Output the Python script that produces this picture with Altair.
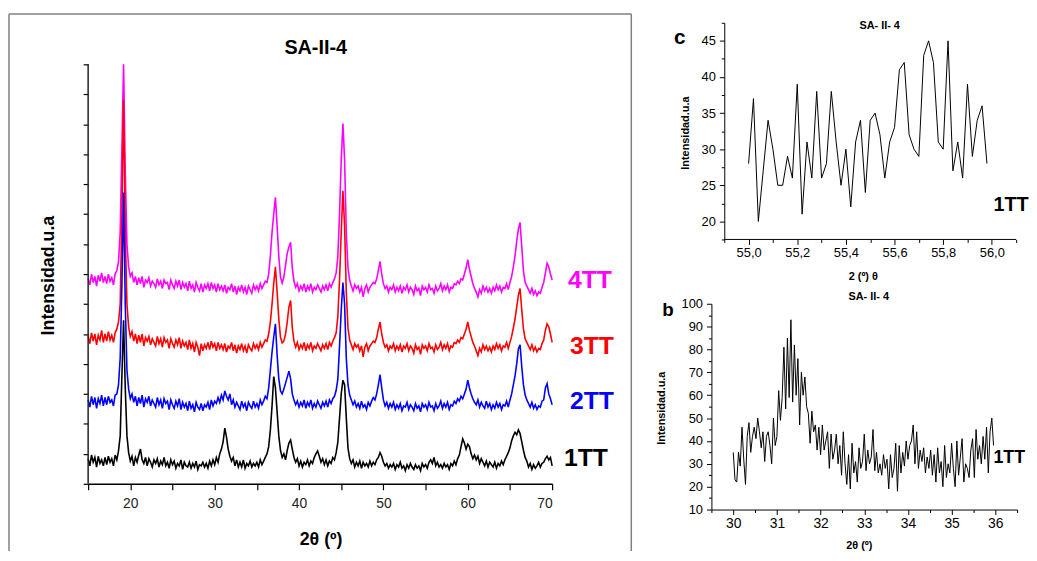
import altair as alt
import pandas as pd

# ---------------- main panel: XRD patterns, 2theta grid 15.0 .. 70.0 (step 0.2)
TWO_THETA = [round(15 + 0.2 * i, 1) for i in range(276)]

TT1 = [42, 30, 48, 36, 44, 28, 46, 34, 40, 30,
       44, 32, 46, 36, 42, 30, 48, 40, 55, 80,
       180, 273, 160, 80, 52, 38, 46, 30, 44, 36,
       48, 58, 40, 34, 44, 30, 42, 36, 28, 40,
       34, 42, 28, 38, 32, 44, 30, 36, 26, 40,
       32, 38, 26, 34, 30, 40, 24, 36, 30, 28,
       36, 26, 34, 28, 38, 24, 32, 30, 36, 28,
       34, 26, 38, 30, 40, 32, 44, 36, 50, 58,
       70, 93, 78, 58, 46, 38, 44, 30, 40, 28,
       36, 28, 40, 26, 34, 30, 38, 28, 34, 30,
       36, 28, 40, 32, 38, 44, 50, 62, 90, 130,
       179, 160, 120, 80, 56, 44, 50, 40, 56, 68,
       73, 58, 44, 36, 42, 30, 38, 28, 36, 32,
       40, 30, 38, 34, 44, 50, 55, 46, 36, 42,
       32, 40, 30, 38, 34, 44, 40, 52, 70, 110,
       150, 173, 165, 110, 60, 42, 34, 40, 28, 36,
       30, 38, 26, 36, 30, 34, 28, 38, 30, 36,
       32, 40, 44, 52, 46, 36, 30, 34, 26, 32,
       28, 34, 24, 32, 28, 36, 26, 30, 22, 32,
       26, 34, 28, 24, 32, 26, 30, 22, 34, 28,
       32, 26, 36, 40, 34, 44, 30, 36, 28, 32,
       26, 34, 28, 32, 24, 34, 30, 38, 32, 42,
       48, 62, 75, 68, 58, 66, 62, 50, 42, 48,
       40, 46, 34, 42, 36, 30, 38, 28, 36, 32,
       28, 36, 26, 34, 30, 38, 32, 40, 46, 52,
       60, 72, 80, 86, 82, 90, 84, 70, 56, 44,
       38, 28, 34, 24, 32, 26, 30, 36, 28, 34,
       36, 42, 46, 40, 44, 30]

TT2 = [140, 128, 146, 132, 144, 126, 142, 134, 148, 130,
       144, 132, 146, 136, 140, 130, 148, 150, 165, 210,
       330, 486, 300, 190, 158, 142, 150, 136, 146, 130,
       144, 134, 148, 128, 142, 136, 146, 130, 140, 134,
       128, 144, 132, 140, 126, 142, 134, 138, 124, 140,
       132, 126, 138, 130, 142, 124, 136, 128, 134, 122,
       138, 126, 132, 120, 136, 128, 124, 134, 122, 132,
       128, 136, 124, 140, 130, 138, 134, 144, 136, 148,
       140, 155, 146, 140, 150, 132, 140, 128, 136, 130,
       124, 138, 128, 134, 122, 136, 130, 126, 138, 128,
       134, 126, 140, 132, 138, 146, 142, 160, 190, 220,
       245, 267, 215, 175, 155, 150, 158, 168, 178, 188,
       175, 150, 140, 132, 138, 128, 136, 130, 140, 126,
       136, 130, 140, 126, 134, 128, 138, 132, 126, 136,
       130, 138, 128, 140, 134, 142, 146, 156, 175, 230,
       290, 336, 300, 210, 165, 148, 140, 132, 138, 128,
       134, 126, 138, 128, 132, 124, 136, 130, 138, 144,
       140, 150, 165, 182, 160, 140, 130, 136, 126, 134,
       128, 136, 124, 132, 126, 134, 122, 130, 128, 136,
       124, 132, 128, 122, 134, 126, 130, 120, 134, 128,
       132, 124, 136, 128, 130, 122, 134, 126, 130, 138,
       126, 134, 128, 136, 124, 132, 130, 138, 134, 142,
       138, 146, 142, 150, 158, 173, 160, 150, 142, 136,
       132, 140, 128, 136, 130, 126, 138, 128, 134, 124,
       132, 126, 136, 128, 134, 124, 132, 130, 138, 128,
       140, 150, 165, 180, 200, 225, 232, 195, 165, 148,
       140, 134, 128, 136, 126, 132, 124, 130, 128, 138,
       140, 160, 167, 150, 142, 132]

TT3 = [246, 234, 252, 238, 250, 232, 248, 240, 256, 236,
       250, 238, 254, 240, 248, 236, 252, 258, 270, 300,
       450, 641, 420, 300, 262, 246, 254, 238, 250, 234,
       248, 236, 250, 230, 244, 238, 246, 232, 242, 236,
       230, 246, 234, 242, 228, 244, 236, 240, 226, 242,
       234, 228, 240, 232, 244, 226, 238, 230, 236, 224,
       240, 226, 234, 220, 236, 228, 214, 234, 222, 232,
       226, 236, 224, 238, 228, 234, 222, 236, 226, 232,
       224, 234, 220, 230, 226, 236, 222, 232, 218, 230,
       224, 234, 222, 230, 218, 232, 226, 222, 234, 226,
       232, 224, 236, 228, 234, 240, 238, 250, 270, 300,
       335, 362, 320, 275, 245, 235, 238, 250, 270, 295,
       306, 260, 238, 228, 236, 224, 232, 226, 236, 222,
       232, 226, 236, 222, 230, 226, 234, 228, 222, 232,
       226, 234, 224, 236, 230, 238, 244, 252, 280, 340,
       420, 489, 430, 320, 260, 240, 232, 224, 234, 228,
       232, 222, 230, 212, 228, 234, 222, 230, 234, 238,
       236, 244, 258, 270, 250, 236, 228, 232, 222, 230,
       226, 234, 222, 230, 224, 232, 220, 230, 226, 234,
       222, 230, 226, 218, 232, 224, 228, 216, 232, 226,
       230, 222, 234, 226, 228, 220, 232, 224, 228, 236,
       224, 232, 226, 234, 222, 230, 228, 236, 234, 240,
       236, 244, 242, 250, 258, 270, 256, 246, 236, 230,
       222, 214, 226, 220, 232, 224, 230, 222, 228, 220,
       230, 224, 234, 226, 232, 222, 230, 228, 236, 226,
       236, 246, 260, 275, 295, 315, 326, 290, 258, 242,
       236, 230, 224, 232, 222, 228, 220, 226, 224, 234,
       240, 256, 267, 262, 250, 236]

TT4 = [342, 332, 350, 336, 346, 330, 348, 338, 352, 336,
       346, 334, 350, 338, 344, 332, 350, 356, 370, 420,
       560, 700, 520, 400, 362, 346, 352, 336, 346, 332,
       344, 334, 346, 328, 340, 336, 344, 330, 338, 334,
       328, 342, 332, 338, 326, 340, 334, 336, 324, 340,
       332, 326, 338, 330, 340, 324, 336, 328, 334, 322,
       338, 326, 332, 320, 336, 328, 322, 334, 320, 332,
       326, 334, 322, 336, 326, 332, 320, 334, 324, 330,
       322, 332, 318, 328, 324, 334, 320, 330, 316, 328,
       322, 332, 320, 328, 316, 330, 324, 318, 332, 324,
       330, 322, 334, 326, 332, 338, 336, 350, 380, 420,
       450, 478, 430, 380, 345, 335, 345, 365, 385, 395,
       403, 360, 338, 328, 334, 322, 330, 324, 334, 320,
       330, 324, 334, 320, 328, 324, 332, 326, 320, 330,
       324, 332, 322, 334, 328, 336, 342, 352, 380, 450,
       540, 601, 540, 420, 360, 340, 330, 322, 332, 326,
       330, 320, 328, 312, 326, 332, 320, 328, 332, 336,
       334, 342, 356, 371, 350, 334, 326, 330, 320, 328,
       324, 332, 320, 328, 322, 330, 318, 328, 324, 332,
       320, 328, 324, 316, 330, 322, 326, 314, 330, 324,
       328, 320, 332, 324, 326, 318, 330, 322, 326, 334,
       322, 330, 324, 332, 320, 328, 326, 334, 332, 338,
       334, 342, 340, 350, 360, 374, 358, 346, 334, 326,
       320, 312, 324, 318, 330, 322, 328, 320, 326, 318,
       328, 322, 332, 324, 330, 320, 328, 326, 334, 324,
       336, 346, 362, 380, 405, 425, 436, 395, 355, 336,
       330, 324, 318, 326, 316, 322, 314, 320, 318, 328,
       336, 352, 368, 362, 350, 340]

# ---------------- inset c: 55.00 .. 55.98 (step 0.02)
C_X = [round(55.0 + 0.02 * i, 2) for i in range(50)]
C_Y = [28, 37, 20, 27, 34, 30, 25, 25, 29, 26,
       39, 21, 31, 26, 38, 26, 28, 38, 31, 25,
       30, 22, 31, 34, 24, 34, 35, 32, 26, 31,
       33, 41, 42, 32, 30, 29, 43, 45, 42, 31,
       30, 45, 27, 31, 26, 39, 29, 34, 36, 28]

# ---------------- inset b: 30.00 .. 35.96 (step 0.04)
B_X = [round(30.0 + 0.04 * i, 2) for i in range(150)]
B_Y = [35, 23, 22, 35, 29, 46, 32, 21, 42, 48, 35, 42, 46, 41, 50, 44, 37, 44, 31, 42, 44, 38, 30, 50, 38,
       42, 62, 49, 59, 81, 54, 85, 59, 93, 57, 82, 60, 76, 47, 70, 60, 68, 55, 52, 39, 53, 44, 47, 36, 46,
       34, 47, 36, 40, 44, 28, 43, 32, 36, 43, 30, 38, 25, 44, 30, 21, 34, 19, 39, 26, 31, 22, 37, 28, 31,
       43, 27, 36, 30, 33, 45, 27, 35, 26, 30, 25, 34, 28, 32, 19, 34, 24, 28, 39, 18, 38, 26, 35, 29, 40,
       32, 38, 40, 47, 30, 44, 28, 36, 31, 37, 26, 33, 28, 36, 25, 34, 22, 37, 26, 31, 20, 38, 24, 30, 26,
       39, 28, 20, 40, 25, 33, 41, 22, 30, 28, 24, 36, 41, 24, 45, 32, 38, 30, 42, 32, 46, 26, 44, 50, 38]

FONT = "Liberation Sans"
ONE = pd.DataFrame({"k": [0]})


def txt(s, px, py, size, color="#000", align="center", weight="bold"):
    return alt.Chart(ONE).mark_text(
        text=s, fontSize=size, fontWeight=weight, color=color, align=align,
        baseline="middle", font=FONT
    ).encode(x=alt.value(px), y=alt.value(py))


# ================= main panel =================
W_M, H_M = 469, 466
X_M = alt.X("x:Q", scale=alt.Scale(domain=[15, 70], nice=False, zero=False),
            axis=alt.Axis(values=list(range(15, 71, 5)),
                          labelExpr="datum.value % 10 == 0 ? datum.label : ''",
                          tickSize=6, tickWidth=1.2, domainWidth=1.5,
                          labelFontSize=14, labelPadding=7, labelColor="#222",
                          title="2θ (º)", titleFontSize=18, titleFontWeight="bold",
                          titleX=235, titleY=56, titleBaseline="middle", titleAlign="center"))
Y_M = alt.Y("y:Q", scale=alt.Scale(domain=[0, 769.3], nice=False, zero=False),
            axis=alt.Axis(values=list(range(0, 701, 50)), labels=False, domain=False,
                          tickSize=5, tickWidth=1.2,
                          title="Intensidad.u.a", titleFontSize=18, titleFontWeight="bold",
                          titleX=-40, titleY=255, titleAngle=270,
                          titleBaseline="middle", titleAlign="center"))


def series(vals, color):
    df = pd.DataFrame({"x": TWO_THETA, "y": vals})
    return alt.Chart(df).mark_line(color=color, strokeWidth=1.6).encode(x=X_M, y=Y_M)


yline = alt.Chart(pd.DataFrame({"x": [15.0], "y": [0.0], "y2": [700.0]})).mark_rule(
    color="#222", strokeWidth=1.5).encode(x=X_M, y=Y_M, y2="y2:Q")

frame_l = alt.Chart(ONE).mark_rule(color="#808080", strokeWidth=1.5).encode(
    x=alt.value(-80), y=alt.value(-9), y2=alt.value(534))
frame_t = alt.Chart(ONE).mark_rule(color="#808080", strokeWidth=1.5).encode(
    x=alt.value(-80), x2=alt.value(549), y=alt.value(-9))
frame_r = alt.Chart(ONE).mark_rule(color="#808080", strokeWidth=1.5).encode(
    x=alt.value(549), y=alt.value(-9), y2=alt.value(534))

main = alt.layer(
    frame_l, frame_t, frame_r,
    series(TT4, "#FF00FF"), series(TT3, "#FF0000"), series(TT2, "#0000FF"), series(TT1, "#000000"),
    yline,
    txt("SA-II-4", 230, 26, 20),
    txt("4TT", 485, 260, 25, "#FF00FF", "left"),
    txt("3TT", 487, 327, 25, "#FF0000", "left"),
    txt("2TT", 487, 382, 25, "#0000FF", "left"),
    txt("1TT", 481, 440, 25, "#000000", "left"),
).properties(width=W_M, height=H_M)

# ================= inset c =================
W_C, H_C = 308, 219
X_C = alt.X("x:Q", scale=alt.Scale(domain=[54.8471, 56.1], nice=False, zero=False),
            axis=alt.Axis(values=[round(54.9 + 0.1 * i, 1) for i in range(13)], domain=False,
                          tickSize={"condition": {"test": "round(datum.value * 10) % 2 != 0", "value": 3}, "value": 5},
                          labelExpr="round(datum.value * 10) % 2 != 0 ? '' : replace(format(datum.value, '.1f'), '.', ',')",
                          labelFontSize=13, labelPadding=2,
                          title="2 (º) θ", titleFontSize=11, titleFontWeight="bold",
                          titleX=153, titleY=37, titleBaseline="middle", titleAlign="center"))
Y_C = alt.Y("y:Q", scale=alt.Scale(domain=[17.5, 47.5], nice=False, zero=False),
            axis=alt.Axis(values=[17.5 + 2.5 * i for i in range(13)], offset=-13,
                          tickSize={"condition": {"test": "datum.value % 5 != 0", "value": 3}, "value": 5},
                          labelExpr="datum.value % 5 == 0 ? format(datum.value, 'd') : ''",
                          labelFontSize=13, labelPadding=4,
                          title="Intensidad.u.a", titleFontSize=11, titleFontWeight="bold",
                          titleX=-39, titleY=111, titleAngle=270,
                          titleBaseline="middle", titleAlign="center"))

c_line = alt.Chart(pd.DataFrame({"x": C_X, "y": C_Y})).mark_line(
    color="#000", strokeWidth=1).encode(x=X_C, y=Y_C)
c_xline = alt.Chart(pd.DataFrame({"x": [54.9], "x2": [56.1], "y": [17.5]})).mark_rule(
    color="#000", strokeWidth=1).encode(x=X_C, x2="x2:Q", y=Y_C)

panel_c = alt.layer(
    c_xline, c_line,
    txt("SA- II- 4", 170, 3, 11),
    txt("c", -32, 15, 21),
    txt("1TT", 285, 184, 20, "#000", "left"),
).properties(width=W_C, height=H_C)

# ================= inset b =================
W_B, H_B = 309, 208
X_B = alt.X("x:Q", scale=alt.Scale(domain=[29.5, 36.5], nice=False, zero=False),
            axis=alt.Axis(values=[29.5 + 0.5 * i for i in range(15)],
                          tickSize={"condition": {"test": "datum.value % 1 != 0", "value": 3}, "value": 5},
                          labelExpr="datum.value % 1 == 0 ? format(datum.value, 'd') : ''",
                          labelFontSize=14, labelPadding=2,
                          title="2θ (º)", titleFontSize=11, titleFontWeight="bold",
                          titleX=149, titleY=36, titleBaseline="middle", titleAlign="center"))
Y_B = alt.Y("y:Q", scale=alt.Scale(domain=[10, 100], nice=False, zero=False),
            axis=alt.Axis(values=[10 + 5 * i for i in range(19)],
                          tickSize={"condition": {"test": "datum.value % 10 != 0", "value": 3}, "value": 5},
                          labelExpr="datum.value % 10 == 0 ? format(datum.value, 'd') : ''",
                          labelFontSize=13, labelPadding=4,
                          title="Intensidad.u.a", titleFontSize=11, titleFontWeight="bold",
                          titleX=-50, titleY=105, titleAngle=270,
                          titleBaseline="middle", titleAlign="center"))

b_line = alt.Chart(pd.DataFrame({"x": B_X, "y": B_Y})).mark_line(
    color="#000", strokeWidth=1).encode(x=X_B, y=Y_B)

panel_b = alt.layer(
    b_line,
    txt("SA- II- 4", 159, -7, 11),
    txt("b", -44, 6, 19),
    txt("1TT", 285, 156, 18, "#000", "left"),
).properties(width=W_B, height=H_B)

right = alt.vconcat(panel_c, panel_b, spacing=65, bounds="flush")

chart = alt.hconcat(main, right, spacing=161, bounds="flush").properties(
    padding={"left": 0, "top": 2, "right": 0, "bottom": 0}
).configure_view(stroke=None).configure_axis(
    labelFont=FONT, titleFont=FONT, grid=False,
    domainColor="#000", tickColor="#000", labelColor="#000", titleColor="#000"
).configure_text(font=FONT)

chart.save("out.html", embed_options={"renderer": "svg", "actions": False})
